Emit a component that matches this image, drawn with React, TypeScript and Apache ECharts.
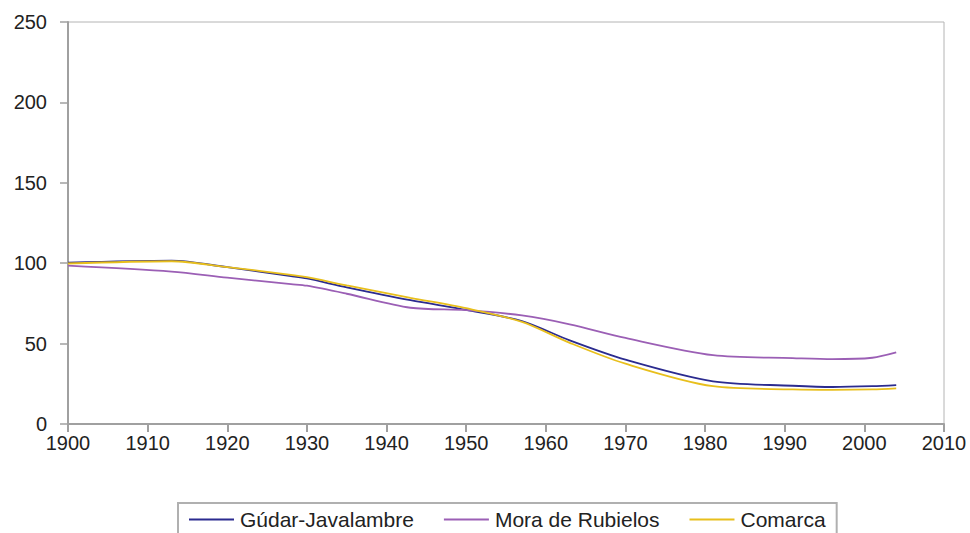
import React, { useEffect, useRef } from "react";
import * as echarts from "echarts";

const years = [1900, 1913, 1920, 1928, 1930, 1935, 1943, 1950, 1957, 1963, 1970, 1981, 1991, 1996, 2001, 2004];
const gudar = [100.3, 101.6, 97.5, 92.0, 90.5, 85.0, 77.0, 71.0, 64.0, 52.0, 40.0, 26.5, 23.8, 23.0, 23.5, 24.2];
const mora = [98.5, 94.8, 91.0, 87.0, 86.0, 81.0, 72.3, 70.8, 67.5, 62.0, 53.5, 42.8, 41.0, 40.3, 41.2, 44.5];
const comarca = [99.8, 101.2, 97.6, 92.8, 91.3, 86.2, 78.5, 72.0, 63.5, 50.5, 37.5, 23.5, 21.5, 21.2, 21.5, 22.2];
const seriesNames = ["Gúdar-Javalambre", "Mora de Rubielos", "Comarca"];
const seriesColors = ["#2b2b8f", "#9b5fb5", "#e8bf1c"];

const pairs = (vals: number[]) => years.map((y, i) => [y, vals[i]]);

export default function App() {
  const ref = useRef<HTMLDivElement>(null);
  useEffect(() => {
    if (!ref.current) return;
    const chart = echarts.init(ref.current, undefined, { renderer: "svg" });
    const font = "'Liberation Sans', Arial, sans-serif";
    const allVals = [gudar, mora, comarca];
    chart.setOption({
      animation: false,
      backgroundColor: "#ffffff",
      grid: {
        left: 68,
        right: 26,
        top: 22,
        bottom: 109,
        show: true,
        borderColor: "#b4b4b4",
        borderWidth: 1,
      },
      xAxis: {
        type: "value",
        min: 1900,
        max: 2010,
        interval: 10,
        axisLine: { show: true, lineStyle: { color: "#a0a0a0", width: 2 } },
        axisTick: { show: true, length: 8, lineStyle: { color: "#a0a0a0", width: 2 } },
        splitLine: { show: false },
        axisLabel: {
          color: "#222",
          fontSize: 20,
          fontFamily: font,
          margin: 9,
          formatter: (v: number) => String(v),
        },
      },
      yAxis: {
        type: "value",
        min: 0,
        max: 250,
        interval: 50,
        axisLine: { show: true, lineStyle: { color: "#a0a0a0", width: 2 } },
        axisTick: { show: true, length: 8, inside: false, lineStyle: { color: "#a0a0a0", width: 1.5 } },
        splitLine: { show: false },
        axisLabel: { color: "#222", fontSize: 20, fontFamily: font, margin: 21 },
      },
      legend: {
        left: 178,
        top: 503,
        width: 680,
        itemWidth: 45,
        itemHeight: 2,
        itemGap: 30,
        icon: "rect",
        padding: [6, 11, 30, 11],
        borderColor: "#b0b0b0",
        borderWidth: 2,
        textStyle: { fontSize: 21, fontFamily: font, color: "#222", padding: [0, 0, 0, 1] },
        data: seriesNames,
      },
      series: seriesNames.map((name, i) => ({
        name,
        type: "line",
        data: pairs(allVals[i]),
        smooth: 0.3,
        showSymbol: false,
        symbol: "none",
        lineStyle: { color: seriesColors[i], width: 1.8 },
        itemStyle: { color: seriesColors[i] },
      })),
    });
    return () => chart.dispose();
  }, []);
  return <div ref={ref} style={{ width: 970, height: 533, position: "fixed", left: 0, top: 0 }} />;
}
